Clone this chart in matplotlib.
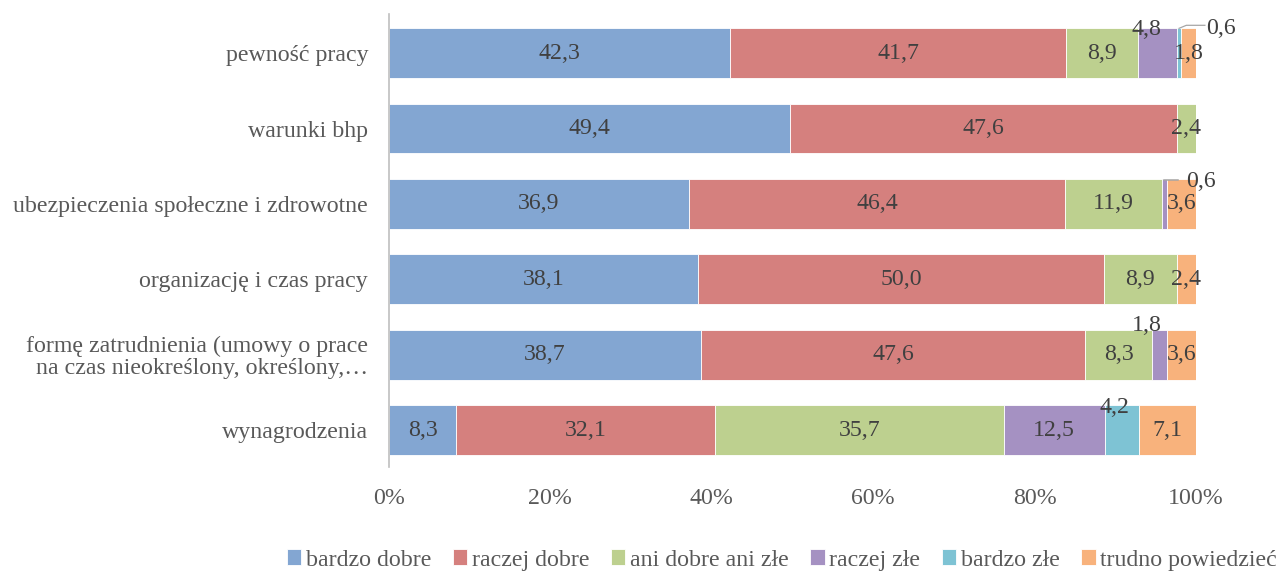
import matplotlib
matplotlib.use("Agg")
import matplotlib.pyplot as plt
from matplotlib.patches import Patch
from matplotlib.font_manager import FontProperties
import numpy as np

# Survey categories, top to bottom
categories = [
    "pewność pracy",
    "warunki bhp",
    "ubezpieczenia społeczne i zdrowotne",
    "organizację i czas pracy",
    "formę zatrudnienia (umowy o prace\nna czas nieokreślony, określony,…",
    "wynagrodzenia",
]

series_names = ["bardzo dobre", "raczej dobre", "ani dobre ani złe",
                "raczej złe", "bardzo złe", "trudno powiedzieć"]

bardzo_dobre = [42.3, 49.4, 36.9, 38.1, 38.7, 8.3]
raczej_dobre = [41.7, 47.6, 46.4, 50.0, 47.6, 32.1]
ani_dobre_ani_zle = [8.9, 2.4, 11.9, 8.9, 8.3, 35.7]
raczej_zle = [4.8, 0.0, 0.6, 0.0, 1.8, 12.5]
bardzo_zle = [0.6, 0.0, 0.0, 0.0, 0.0, 4.2]
trudno_powiedziec = [1.8, 0.0, 3.6, 2.4, 3.6, 7.1]

tick_labels = ["0%", "20%", "40%", "60%", "80%", "100%"]

colors = ["#83A6D2", "#D5807E", "#BDD08F", "#A591C2", "#7EC3D4", "#F8B27C"]
label_color = "#404040"
axis_text_color = "#595959"
FONT = "Liberation Serif"
FS = 17.2

plt.rcParams["font.family"] = [FONT, "DejaVu Serif"]
fp = FontProperties(family=[FONT, "DejaVu Serif"], size=FS)

values = np.array([bardzo_dobre, raczej_dobre, ani_dobre_ani_zle,
                   raczej_zle, bardzo_zle, trudno_powiedziec])
# 100% stacked: each row is shown as share of its total
shares = values / values.sum(axis=0) * 100

n = len(categories)
ypos = np.arange(n)[::-1]
bar_h = 0.66

fig = plt.figure(figsize=(12.78, 5.72), dpi=100)
ax = fig.add_axes([389 / 1278, 1 - 467 / 572, (1196 - 389) / 1278, (467 - 14) / 572])

left = np.zeros(n)
for k in range(len(series_names)):
    ax.barh(ypos, shares[k], left=left, height=bar_h, color=colors[k],
            edgecolor="white", linewidth=0.6, label=series_names[k])
    left += shares[k]


def fmt(v):
    return f"{v:.1f}".replace(".", ",")


# Label placement overrides for narrow segments: (row, series) -> (dx %, dy bar units)
special = {
    (0, 3): (-1.4, 0.32),
    (2, 3): None,
    (0, 4): None,
    (4, 3): (-1.6, 0.385),
    (5, 4): (-0.9, 0.30),
}

cum = np.cumsum(shares, axis=0)
for i in range(n):
    for k in range(len(series_names)):
        v = values[k, i]
        if v == 0:
            continue
        xc = cum[k, i] - shares[k, i] / 2
        dx, dy = 0.0, 0.0
        if (i, k) in special:
            off = special[(i, k)]
            if off is None:
                continue
            dx, dy = off
        ax.text(xc + dx, ypos[i] + dy, fmt(v), ha="center", va="center",
                fontproperties=fp, color=label_color)

# Callout labels with leader lines for the tiniest segments
# pewność pracy – bardzo złe
i, k = 0, 4
xs = cum[k, i] - shares[k, i] / 2
yt = ypos[i] + bar_h / 2
ax.plot([xs, xs + 0.9, 101.1], [yt, yt + 0.04, yt + 0.04],
        color="#A6A6A6", lw=0.9, clip_on=False)
ax.text(101.3, yt - 0.005, fmt(values[k, i]), ha="left", va="center",
        fontproperties=fp, color=label_color, clip_on=False)

# ubezpieczenia – raczej złe
i, k = 2, 3
xs = cum[k, i] - shares[k, i] / 2
yt = ypos[i] + bar_h / 2
ax.plot([xs, xs + 1.7], [yt - 0.01, yt - 0.01], color="#A6A6A6", lw=1.1, clip_on=False)
ax.text(100.6, ypos[i] + 0.30, fmt(values[k, i]), ha="center", va="center",
        fontproperties=fp, color=label_color, clip_on=False)

ax.set_xlim(0, 100)
ax.set_ylim(-0.49, 5.52)
ax.set_xticks(np.linspace(0, 100, len(tick_labels)))
ax.set_xticklabels(tick_labels, fontproperties=fp, color=axis_text_color)
ax.set_yticks(ypos)
ax.set_yticklabels(categories, fontproperties=fp, color=axis_text_color, linespacing=1.05)
ax.tick_params(axis="both", length=0)
ax.tick_params(axis="x", pad=15)
ax.tick_params(axis="y", pad=15)
for s in ["top", "right", "bottom"]:
    ax.spines[s].set_visible(False)
ax.spines["left"].set_color("#BFBFBF")
ax.spines["left"].set_linewidth(1.2)

handles = [Patch(facecolor=c, edgecolor="white", linewidth=0.6) for c in colors]
fig.legend(handles, series_names, loc="center", ncol=6, frameon=False,
           bbox_to_anchor=(782 / 1278, 1 - 560 / 572), prop=fp,
           handlelength=0.6, handleheight=0.6, handletextpad=0.2,
           columnspacing=0.9, labelcolor=axis_text_color)

fig.savefig("out.png", dpi=100)
